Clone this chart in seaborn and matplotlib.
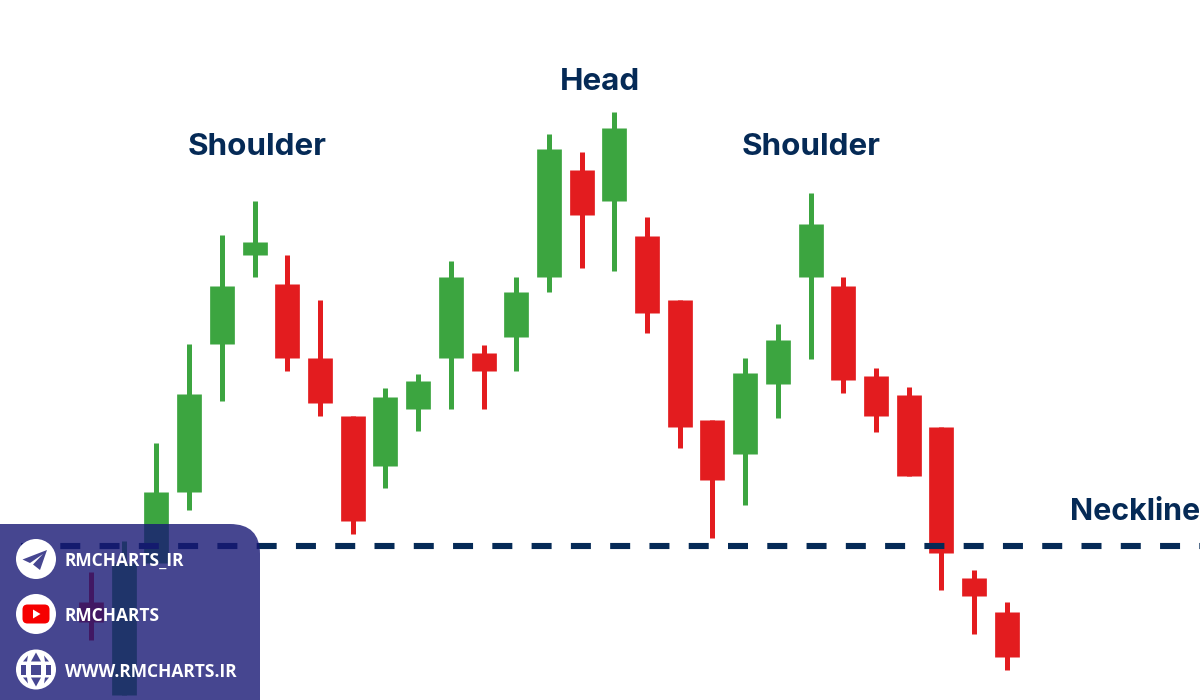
import matplotlib
matplotlib.use("Agg")
import matplotlib.pyplot as plt
import numpy as np
import pandas as pd
import seaborn as sns
from matplotlib.patches import Circle, FancyBboxPatch, Polygon

# Candle values (price = distance from the bottom edge)
highs = [128, 159, 257, 356, 465, 499, 445, 400, 284, 312, 326, 439, 355, 423, 566, 548, 588, 483, 400, 280, 342, 376, 507, 423, 332, 313, 273, 130, 98]
tops = [98, 137, 208, 306, 414, 458, 416, 342, 284, 303, 319, 423, 347, 408, 551, 530, 572, 464, 400, 280, 327, 360, 476, 414, 324, 305, 273, 122, 88]
bottoms = [78, 5, 137, 208, 356, 445, 342, 297, 179, 234, 291, 342, 329, 363, 423, 485, 499, 387, 273, 220, 246, 316, 423, 320, 284, 224, 147, 104, 43]
lows = [60, 5, 137, 190, 299, 423, 329, 284, 166, 212, 269, 291, 291, 329, 408, 432, 429, 367, 252, 162, 195, 282, 341, 307, 268, 224, 110, 66, 30]
direction = ["down", "up", "up", "up", "up", "up", "down", "down", "down", "up", "up", "up", "down", "up", "up", "down", "up", "down", "down", "down", "up", "up", "up", "down", "down", "down", "down", "down", "down"]
neckline = 154
peak_labels = ["Shoulder", "Head", "Shoulder"]
neck_label = "Neckline"
contacts = ["RMCHARTS_IR", "RMCHARTS", "WWW.RMCHARTS.IR"]

GREEN = "#3ca540"
RED = "#e31c1f"
NAVY = "#052a56"
PANEL = (24 / 255, 24 / 255, 117 / 255)
PANEL_SOLID = "#464691"

sns.set_theme(style="white")
plt.rcParams["lines.scale_dashes"] = False

n = len(highs)
wick_rows, body_rows = [], []
for i in range(n):
    for price in (highs[i], lows[i]):
        wick_rows.append({"candle": i, "price": price, "dir": direction[i]})
    for price in (tops[i], bottoms[i]):
        body_rows.append({"candle": i, "price": price, "dir": direction[i]})
wicks = pd.DataFrame(wick_rows)
bodies = pd.DataFrame(body_rows)
palette = {"up": GREEN, "down": RED}

fig = plt.figure(figsize=(12, 7), dpi=100, facecolor="white")
ax = fig.add_axes([0, 0, 1, 1])
step = 32.71
ax.set_xlim(-91 / step, (1200 - 91) / step)
ax.set_ylim(0, 700)
ax.axis("off")

for frame, width in ((wicks, 3.6), (bodies, 17.8)):
    sns.lineplot(data=frame, x="candle", y="price", units="candle", estimator=None,
                 hue="dir", palette=palette, linewidth=width, legend=False, ax=ax,
                 solid_capstyle="butt", zorder=2)

ax.plot([(20.7 - 91) / step, (1200 - 91) / step], [neckline, neckline], color=NAVY, lw=4.4,
        linestyle=(0, (14.4, 13.88)), dash_capstyle="butt", zorder=3)

# Overlay in picture coordinates for the labels and the contact panel
ov = fig.add_axes([0, 0, 1, 1], facecolor="none")
ov.set_xlim(0, 1200)
ov.set_ylim(700, 0)
ov.axis("off")

label_font = dict(family="Inter", weight="bold", color=NAVY, fontsize=22.6, va="center", ha="center")
for text, px, py in zip(peak_labels, (257.5, 600, 811.5), (147, 81.5, 147)):
    ov.text(px, py, text, **label_font)
ov.text(1070, 512.5, neck_label, family="Inter", weight="bold", color=NAVY, fontsize=21.9,
        va="center", ha="left")

panel = FancyBboxPatch((-30, 554), 260, 176, boxstyle="round,pad=30,rounding_size=30",
                       fc=PANEL, ec="none", alpha=0.8, zorder=5)
ov.add_patch(panel)

centers = [559, 614, 669.5]
for cy in centers:
    ov.add_patch(Circle((36, cy), 20, fc="white", ec="none", zorder=6))

# Telegram plane
ov.add_patch(Polygon([(47, 550), (22.5, 559.5), (30, 563), (43, 554), (33, 564.5), (40, 570)],
                     closed=True, fc=PANEL_SOLID, ec="none", zorder=7))
# YouTube badge
ov.add_patch(FancyBboxPatch((26, 608), 20, 12, boxstyle="round,pad=3.5,rounding_size=5",
                            fc="#f60000", ec="none", zorder=7))
ov.add_patch(Polygon([(33, 609.5), (33, 618.5), (40.5, 614)], closed=True, fc="white", ec="none", zorder=8))
# Globe cells
cy = centers[2]
globe_cells = [
    [(21, cy - 5), (26, cy - 5), (26, cy + 5), (21, cy + 5)],
    [(31, cy - 5), (41, cy - 5), (41, cy + 5), (31, cy + 5)],
    [(46, cy - 5), (51, cy - 5), (51, cy + 5), (46, cy + 5)],
    [(36, cy - 17), (41, cy - 8), (31, cy - 8)],
    [(36, cy + 17), (41, cy + 8), (31, cy + 8)],
    [(23, cy - 8), (28, cy - 14), (27, cy - 8)],
    [(49, cy - 8), (44, cy - 14), (45, cy - 8)],
    [(23, cy + 8), (28, cy + 14), (27, cy + 8)],
    [(49, cy + 8), (44, cy + 14), (45, cy + 8)],
]
for pts in globe_cells:
    ov.add_patch(Polygon(pts, closed=True, fc=PANEL_SOLID, ec="none", zorder=7))

for text, cy in zip(contacts, (561, 616, 672)):
    ov.text(65, cy, text, family="Open Sans", weight="bold", color="white", fontsize=12.5,
            va="center", ha="left", zorder=9)

fig.savefig("out.png", dpi=100)
